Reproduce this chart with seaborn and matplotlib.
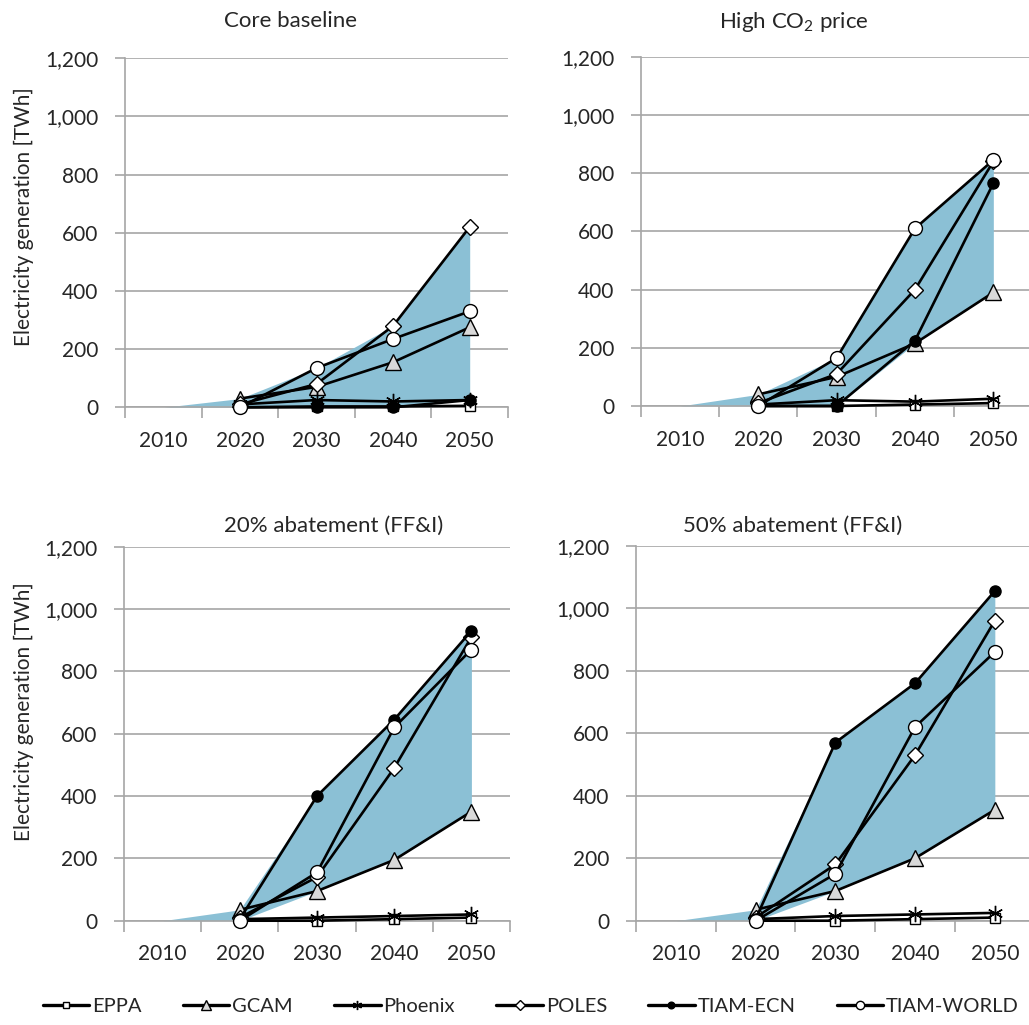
import numpy as np
import pandas as pd
import matplotlib
matplotlib.use("Agg")
import matplotlib.pyplot as plt
import seaborn as sns
from matplotlib.ticker import FuncFormatter

# ---- data -------------------------------------------------------------
years = [2010, 2020, 2030, 2040, 2050]
model_years = [2020, 2030, 2040, 2050]
models = ["EPPA", "GCAM", "Phoenix", "POLES", "TIAM-ECN", "TIAM-WORLD"]
band_models = ["GCAM", "POLES", "TIAM-ECN", "TIAM-WORLD"]
scenario_titles = ["Core baseline", r"High CO$_{\mathregular{2}}$ price",
                   "20% abatement (FF&I)", "50% abatement (FF&I)"]
y_ticks = [0, 200, 400, 600, 800, 1000, 1200]

# Core baseline
core_eppa = [0, 3, 3, 5]
core_gcam = [30, 70, 155, 275]
core_phoenix = [10, 25, 20, 25]
core_poles = [10, 80, 280, 620]
core_tiam_ecn = [0, 0, 0, 25]
core_tiam_world = [0, 135, 235, 330]

# High CO2 price
co2_eppa = [0, 0, 5, 10]
co2_gcam = [40, 100, 215, 390]
co2_phoenix = [5, 20, 15, 25]
co2_poles = [10, 110, 400, 840]
co2_tiam_ecn = [0, 0, 225, 765]
co2_tiam_world = [0, 165, 610, 845]

# 20% abatement (FF&I)
a20_eppa = [0, 0, 5, 10]
a20_gcam = [35, 95, 195, 350]
a20_phoenix = [5, 10, 15, 20]
a20_poles = [10, 140, 490, 910]
a20_tiam_ecn = [5, 400, 645, 930]
a20_tiam_world = [0, 155, 620, 870]

# 50% abatement (FF&I)
a50_eppa = [0, 0, 5, 10]
a50_gcam = [35, 95, 200, 355]
a50_phoenix = [5, 15, 20, 25]
a50_poles = [10, 180, 530, 960]
a50_tiam_ecn = [5, 570, 760, 1055]
a50_tiam_world = [0, 150, 620, 860]

scenario_series = [
    [core_eppa, core_gcam, core_phoenix, core_poles, core_tiam_ecn, core_tiam_world],
    [co2_eppa, co2_gcam, co2_phoenix, co2_poles, co2_tiam_ecn, co2_tiam_world],
    [a20_eppa, a20_gcam, a20_phoenix, a20_poles, a20_tiam_ecn, a20_tiam_world],
    [a50_eppa, a50_gcam, a50_phoenix, a50_poles, a50_tiam_ecn, a50_tiam_world],
]

# ---- style ------------------------------------------------------------
sns.set_style("white")
plt.rcParams["font.family"] = ["Lato", "DejaVu Sans"]
plt.rcParams["mathtext.fontset"] = "custom"
plt.rcParams["mathtext.rm"] = "Lato"

text_color = "#262626"
grid_color = "#A6A6A6"
band_color = "#8BC0D5"

marker_styles = {
    "EPPA":       dict(marker="s", markersize=7,  markerfacecolor="white"),
    "GCAM":       dict(marker="^", markersize=11, markerfacecolor="#D9D9D9"),
    "Phoenix":    dict(marker=(6, 2, 0), markersize=11, markerfacecolor="black"),
    "POLES":      dict(marker="D", markersize=8,  markerfacecolor="white"),
    "TIAM-ECN":   dict(marker="o", markersize=8,  markerfacecolor="black"),
    "TIAM-WORLD": dict(marker="o", markersize=10, markerfacecolor="white"),
}

W, H = 1029, 1025
fig = plt.figure(figsize=(W / 100, H / 100), dpi=100)

# axes boxes in pixels: left, right, top (1200 line), bottom (0 line)
boxes = [
    (125, 508, 58.3, 407.3),
    (640.8, 1032.5, 56.7, 406),
    (124, 510, 546.7, 920.7),
    (636, 1034.7, 545.7, 920.7),
]
title_pos = [(290, 21), (794, 22), (334, 526), (793, 526)]

axes = []
for i, (l, r, t, b) in enumerate(boxes):
    ax = fig.add_axes([l / W, 1 - b / H, (r - l) / W, (b - t) / H])
    axes.append(ax)

    series = scenario_series[i]
    rows = []
    for m, vals in zip(models, series):
        for yr, v in zip(model_years, vals):
            rows.append(dict(model=m, pos=years.index(yr), value=v))
    df = pd.DataFrame(rows)

    # range band across the main models, starting from zero in 2010
    wide = df.pivot(index="pos", columns="model", values="value")[band_models]
    band_x = [0] + list(wide.index)
    band_lo = [0] + list(wide.min(axis=1))
    band_hi = [0] + list(wide.max(axis=1))
    ax.fill_between(band_x, band_lo, band_hi, color=band_color, lw=0, zorder=1.5)

    for m in models:
        sub = df[df.model == m]
        sns.lineplot(data=sub, x="pos", y="value", ax=ax, color="black",
                     linewidth=1.9, markeredgecolor="black", markeredgewidth=1.0,
                     label=m, clip_on=False, zorder=3, **marker_styles[m])
    if ax.get_legend() is not None:
        ax.get_legend().remove()

    ax.set_xlim(-0.5, 4.5)
    ax.set_ylim(0, 1200)
    ax.set_xlabel("")
    ax.set_ylabel("")
    ax.set_axisbelow(True)

    ax.set_xticks(np.arange(-0.5, 5, 1))
    ax.set_xticklabels([])
    ax.set_xticks(range(len(years)), minor=True)
    ax.set_xticklabels([str(y) for y in years], minor=True)
    ax.tick_params(axis="x", which="major", length=8, width=1.2, color=grid_color,
                   direction="out", bottom=True)
    ax.tick_params(axis="x", which="minor", length=0, pad=17,
                   labelsize=15, labelcolor=text_color)

    ax.set_yticks(y_ticks)
    ax.yaxis.set_major_formatter(FuncFormatter(lambda v, p: f"{int(v):,}"))
    ax.tick_params(axis="y", length=7, width=1.2, color=grid_color, direction="out",
                   left=True, pad=12, labelsize=15, labelcolor=text_color)
    ax.grid(axis="y", color=grid_color, linewidth=1.2)
    ax.grid(axis="x", visible=False)

    for s in ["top", "right"]:
        ax.spines[s].set_visible(False)
    for s in ["left", "bottom"]:
        ax.spines[s].set_color(grid_color)
        ax.spines[s].set_linewidth(1.2)

    tx, ty = title_pos[i]
    fig.text(tx / W, 1 - ty / H, scenario_titles[i], ha="center", va="center",
             fontsize=16, color=text_color)

# y-axis titles on the left column
for ty in (217, 712):
    fig.text(24 / W, 1 - ty / H, "Electricity generation [TWh]", rotation=90,
             ha="center", va="center", fontsize=15, color=text_color)

handles, labels = axes[0].get_legend_handles_labels()
leg = fig.legend(handles, labels, loc="center", bbox_to_anchor=(0.516, 1 - 1006 / H),
                 ncol=6, frameon=False, fontsize=14.5, handlelength=2.3,
                 columnspacing=2.05, handletextpad=0.15, labelcolor=text_color,
                 markerscale=0.6, borderpad=0.1)
for h in leg.legend_handles:
    h.set_linewidth(2.4)

fig.savefig("out.png", dpi=100)
